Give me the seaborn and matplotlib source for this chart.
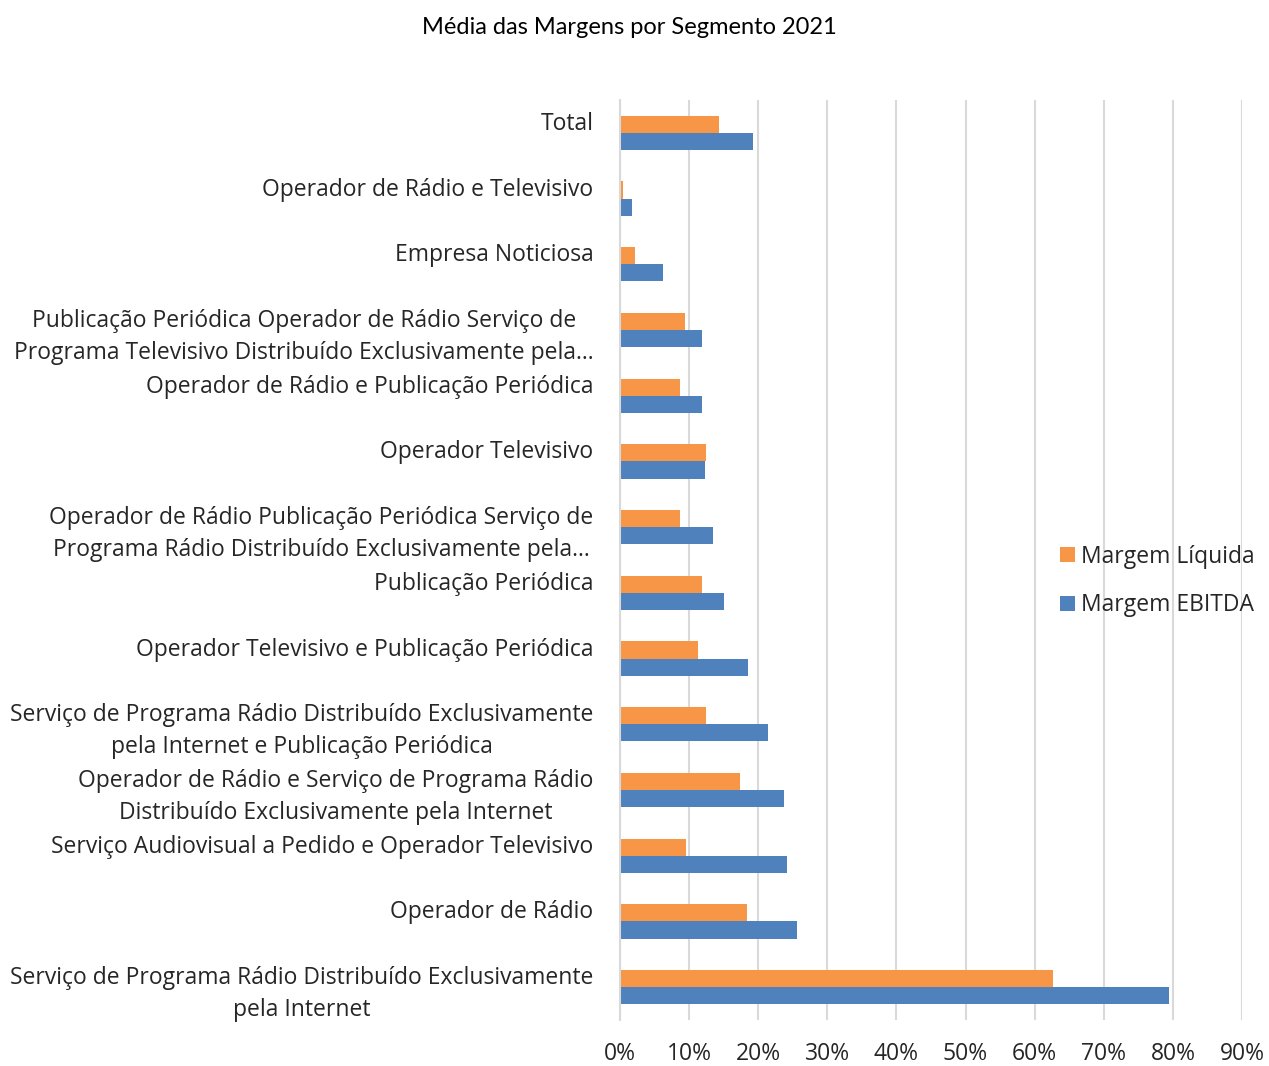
import matplotlib
matplotlib.use("Agg")
import matplotlib.pyplot as plt
import seaborn as sns
import pandas as pd
from matplotlib.ticker import PercentFormatter, MultipleLocator
from matplotlib.patches import Patch

categories = [
    "Total",
    "Operador de Rádio e Televisivo",
    "Empresa Noticiosa",
    "Publicação Periódica Operador de Rádio Serviço de\nPrograma Televisivo Distribuído Exclusivamente pela...",
    "Operador de Rádio e Publicação Periódica",
    "Operador Televisivo",
    "Operador de Rádio Publicação Periódica Serviço de\nPrograma Rádio Distribuído Exclusivamente pela...",
    "Publicação Periódica",
    "Operador Televisivo e Publicação Periódica",
    "Serviço de Programa Rádio Distribuído Exclusivamente\npela Internet e Publicação Periódica",
    "Operador de Rádio e Serviço de Programa Rádio\nDistribuído Exclusivamente pela Internet",
    "Serviço Audiovisual a Pedido e Operador Televisivo",
    "Operador de Rádio",
    "Serviço de Programa Rádio Distribuído Exclusivamente\npela Internet",
]
margem_liquida = [14.3, 0.4, 2.2, 9.4, 8.7, 12.5, 8.7, 11.8, 11.3, 12.5, 17.3, 9.5, 18.4, 62.7]
margem_ebitda = [19.3, 1.7, 6.2, 11.8, 11.9, 12.3, 13.4, 15.1, 18.5, 21.4, 23.8, 24.2, 25.6, 79.4]
series_names = ["Margem Líquida", "Margem EBITDA"]
colors = ["#F79646", "#4F81BD"]
title = "Média das Margens por Segmento 2021"

df = pd.DataFrame({
    "cat": categories * 2,
    "val": margem_liquida + margem_ebitda,
    "serie": [series_names[0]] * len(categories) + [series_names[1]] * len(categories),
})

sns.set_theme(style="white")
plt.rcParams["font.family"] = ["Open Sans", "DejaVu Sans"]

fig = plt.figure(figsize=(12.69, 10.66), dpi=100)
ax = fig.add_axes([620 / 1269, 1 - 1020 / 1066, (1242 - 620) / 1269, (1020 - 100) / 1066])

sns.barplot(data=df, y="cat", x="val", hue="serie", order=categories,
            hue_order=series_names, palette=colors, width=0.52, gap=0,
            orient="h", ax=ax, legend=False, saturation=1, linewidth=0)

ax.set_xlim(0, 90)
ax.set_ylim(len(categories) - 0.5, -0.5)
ax.xaxis.set_major_locator(MultipleLocator(10))
ax.xaxis.set_major_formatter(PercentFormatter(decimals=0))
ax.grid(axis="x", color="#d9d9d9", linewidth=1.5)
ax.set_axisbelow(True)
for s in ["top", "right", "bottom"]:
    ax.spines[s].set_visible(False)
ax.spines["left"].set_color("#d9d9d9")
ax.spines["left"].set_linewidth(1.5)
ax.set_xlabel("")
ax.set_ylabel("")

fs = 16.5
labels = [c if "\n" in c else c + "\n " for c in categories]
ax.set_yticks(range(len(categories)))
ax.set_yticklabels(labels, fontsize=fs, color="#262626", multialignment="center",
                   linespacing=1.45)
ax.tick_params(axis="y", length=0, pad=19)
ax.tick_params(axis="x", length=0, pad=16, labelsize=fs, labelcolor="#262626")

handles = [Patch(facecolor=c, edgecolor="none") for c in colors]
fig.legend(handles, series_names, loc="center left",
           bbox_to_anchor=(1039 / 1269, 1 - 581 / 1066), frameon=False,
           prop={"size": fs}, handlelength=0.65, handleheight=0.65,
           handletextpad=0.3, labelspacing=1.08, labelcolor="#262626")

fig.text(629 / 1269, 1 - 28 / 1066, title, ha="center", va="center", fontsize=17,
         color="black", family=["Lato", "DejaVu Sans"])

fig.savefig("out.png", dpi=100)
